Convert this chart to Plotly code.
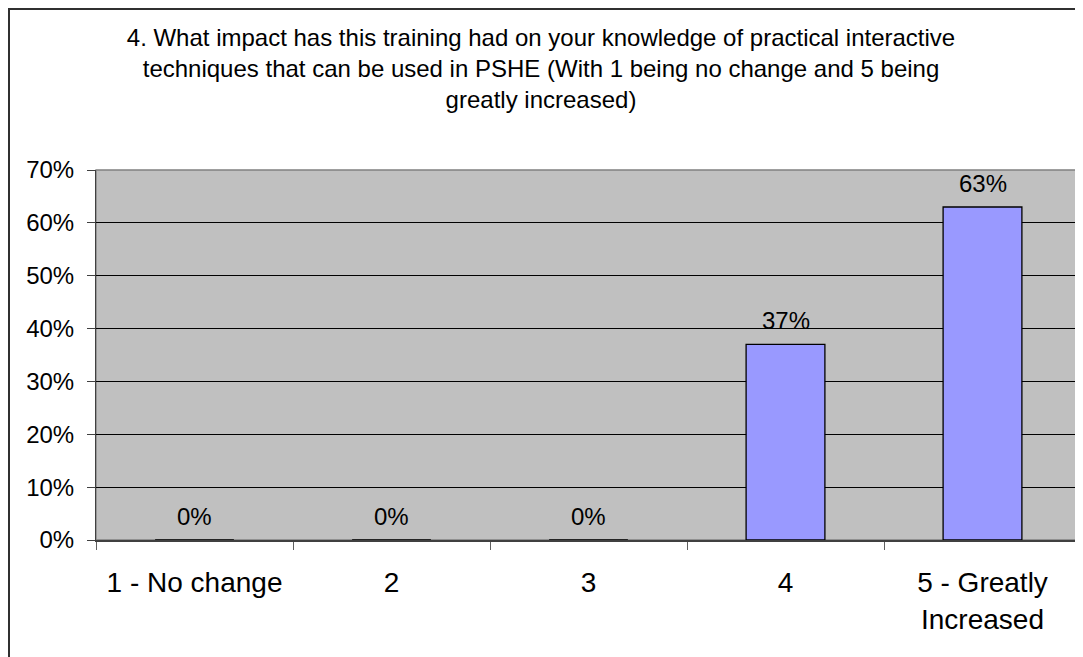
import plotly.graph_objects as go

categories = ["1 - No change", "2", "3", "4", "5 - Greatly<br>Increased"]
shares = [0.0, 0.0, 0.0, 0.37, 0.63]
value_labels = ["0%", "0%", "0%", "37%", "63%"]
y_ticks = [0, 0.1, 0.2, 0.3, 0.4, 0.5, 0.6, 0.7]

title_text = (
    "4. What impact has this training had on your knowledge of practical interactive<br>"
    "techniques that can be used in PSHE (With 1 being no change and 5 being<br>"
    "greatly increased)"
)

# the page body adds an 8px margin, so figure coords = page coords - 8
OFF = 8
W, H = 1083, 657
L, T = 96 - OFF, 170 - OFF
R = W - (1081 - OFF)
B = H - (540 - OFF)
pw, ph = W - L - R, H - T - B

fig = go.Figure()
fig.add_trace(
    go.Bar(
        x=categories,
        y=shares,
        width=0.4,
        marker=dict(color="#9999FF", line=dict(color="black", width=1.3)),
        hoverinfo="x+y",
    )
)

# value labels sit a little above each bar (index x so "2", "3" stay categories)
for i, (val, lab) in enumerate(zip(shares, value_labels)):
    fig.add_annotation(
        x=i,
        y=val,
        text=lab,
        showarrow=False,
        yanchor="bottom",
        yshift=8,
        font=dict(size=24, color="black"),
    )

fig.update_layout(
    width=W,
    height=H,
    margin=dict(l=L, r=R, t=T, b=B),
    paper_bgcolor="white",
    plot_bgcolor="#C0C0C0",
    font=dict(family="Liberation Sans, Arial, sans-serif", color="black"),
    showlegend=False,
    title=dict(
        text=title_text,
        xref="container",
        x=(541 - OFF) / W,
        xanchor="center",
        yref="container",
        y=1 - (46 - OFF) / H,
        yanchor="middle",
        font=dict(size=24, color="black"),
    ),
)

fig.update_yaxes(
    range=[0, 0.7],
    tickvals=y_ticks,
    tickformat=".0%",
    tickfont=dict(size=24),
    showgrid=True,
    gridcolor="black",
    gridwidth=1,
    zeroline=False,
    showline=True,
    linecolor="#404040",
    linewidth=1,
    ticks="outside",
    ticklen=8,
    tickcolor="#404040",
    ticklabelstandoff=8,
)
fig.update_xaxes(
    tickfont=dict(size=28),
    showline=True,
    linecolor="#404040",
    linewidth=1.5,
    ticks="outside",
    tickson="boundaries",
    ticklen=8,
    tickcolor="#606060",
    ticklabelstandoff=17,
)

# plot-area frame
fig.add_shape(
    type="rect", xref="paper", yref="paper", x0=0, x1=1, y0=0, y1=1,
    line=dict(color="#808080", width=1.3), layer="below",
)

# chart-area border (runs off the right and bottom edges like the original)
fig.add_shape(
    type="rect",
    xref="paper",
    yref="paper",
    x0=(1 - L) / pw,
    x1=(W + 10 - L) / pw,
    y0=-(H + 10 - T - ph) / ph,
    y1=(H - 1 - B) / ph,
    line=dict(color="#303030", width=2),
    layer="below",
)

fig.write_html("out.html")
